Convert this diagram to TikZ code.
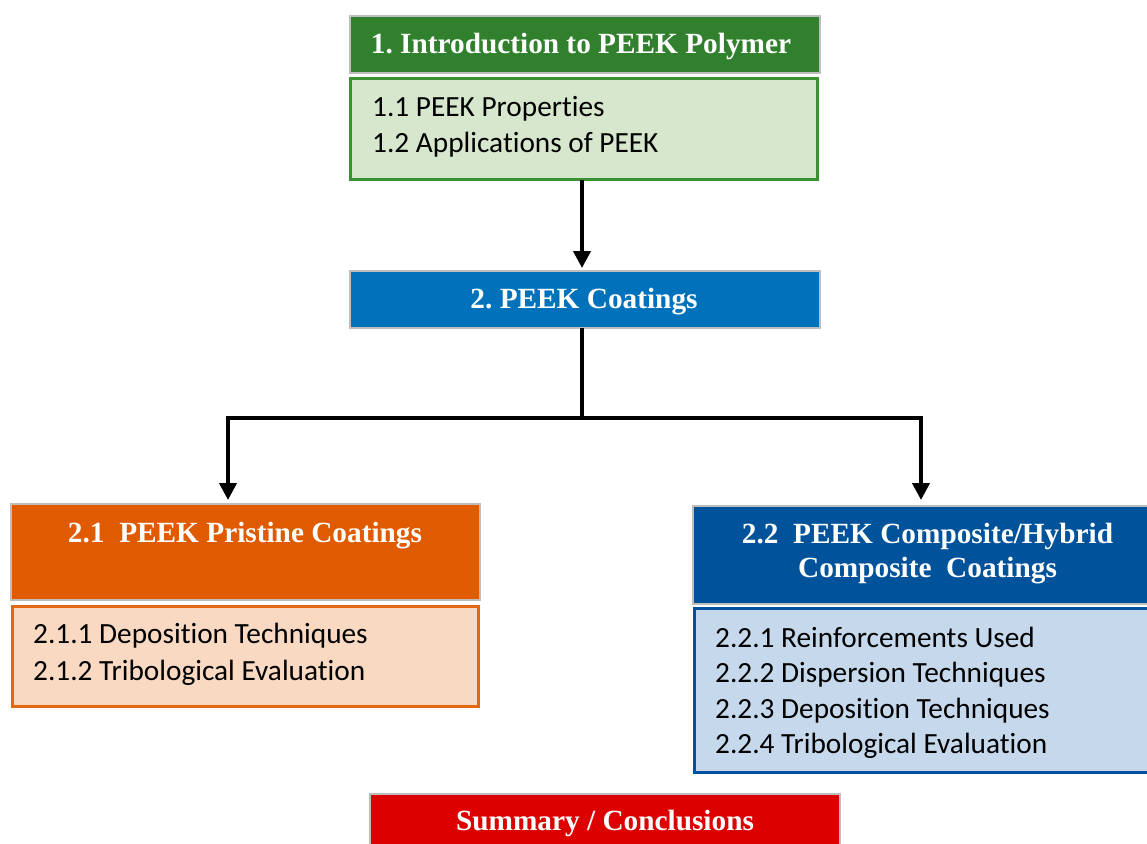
\documentclass[tikz,border=0pt]{standalone}
\usepackage{fontspec}
\setmainfont{Liberation Serif}
\newfontfamily\bodyfont[RawFeature=-liga]{Carlito}
\usetikzlibrary{arrows.meta}
\frenchspacing
\definecolor{gtitle}{RGB}{49,128,45}
\definecolor{gborder}{RGB}{60,145,50}
\definecolor{gfill}{RGB}{214,231,206}
\definecolor{btitle}{RGB}{0,114,187}
\definecolor{otitle}{RGB}{224,90,0}
\definecolor{oborder}{RGB}{226,104,20}
\definecolor{ofill}{RGB}{249,217,194}
\definecolor{dtitle}{RGB}{0,82,155}
\definecolor{dborder}{RGB}{0,80,160}
\definecolor{dfill}{RGB}{198,217,236}
\definecolor{rtitle}{RGB}{220,0,0}
\definecolor{gray1}{RGB}{190,190,190}
\tikzset{
  titlebox/.style={draw=gray1, line width=2pt, inner sep=0pt, outer sep=0pt},
  subbox/.style={line width=3pt, inner sep=0pt, outer sep=0pt},
  ttext/.style={text=white, font=\fontsize{29.3}{34}\selectfont\bfseries, inner sep=0pt, anchor=base},
  btext/.style={text=black, font=\bodyfont\fontsize{29.3}{36}\selectfont, inner sep=0pt, anchor=base west},
  arr/.style={line width=4pt, line join=miter, -{Triangle[width=17pt,length=17pt]}},
  ln/.style={line width=4pt}
}
\begin{document}
\begin{tikzpicture}[x=1pt,y=-1pt]
\useasboundingbox (0,0) rectangle (1147,843);
\clip (0,0) rectangle (1147,843);
% box 1
\node[titlebox, fill=gtitle, minimum width=470pt, minimum height=57pt] (t1) at (585,44.5) {};
\node[subbox, draw=gborder, fill=gfill, minimum width=467pt, minimum height=101pt] (s1) at (584,128.5) {};
\node[ttext] (t1x) at (581,53) {1. Introduction to PEEK Polymer};
\node[btext] (s1a) at (372,116) {1.1 PEEK Properties};
\node[btext] (s1b) at (372,152) {1.2 Applications of PEEK};
% box 2
\node[titlebox, fill=btitle, minimum width=470pt, minimum height=57pt] (t2) at (585,299) {};
\node[ttext] (t2x) at (584,308) {2. PEEK Coatings};
% box 2.1
\node[titlebox, fill=otitle, minimum width=469pt, minimum height=96pt] (t21) at (245.5,552) {};
\node[ttext] (t21x) at (245,542) {2.1\ \ PEEK Pristine Coatings};
\node[subbox, draw=oborder, fill=ofill, minimum width=466pt, minimum height=100pt] (s21) at (245.5,656) {};
\node[btext] (s21a) at (33,643) {2.1.1 Deposition Techniques};
\node[btext] (s21b) at (33,680) {2.1.2 Tribological Evaluation};
% box 2.2
\node[titlebox, fill=dtitle, minimum width=469pt, minimum height=98pt] (t22) at (927.5,555) {};
\node[ttext] (t22x) at (927.5,543) {2.2\ \ PEEK Composite/Hybrid};
\node[ttext] (t22y) at (927.5,577) {Composite\ \ Coatings};
\node[subbox, draw=dborder, fill=dfill, minimum width=466pt, minimum height=164pt] (s22) at (927.5,690) {};
\node[btext] (s22a) at (715,647) {2.2.1 Reinforcements Used};
\node[btext] (s22b) at (715,682) {2.2.2 Dispersion Techniques};
\node[btext] (s22c) at (715,718) {2.2.3 Deposition Techniques};
\node[btext] (s22d) at (715,753) {2.2.4 Tribological Evaluation};
% summary
\node[titlebox, fill=rtitle, minimum width=470pt, minimum height=60pt] (sum) at (605,824) {};
\node[ttext] (sumx) at (605,830) {Summary / Conclusions};
% connectors
\coordinate (a0) at (582,180);
\coordinate (a0e) at (582,268);
\coordinate (a1) at (582,328);
\coordinate (j) at (582,417.5);
\coordinate (jl) at (228,417.5);
\coordinate (jr) at (921,417.5);
\coordinate (el) at (228,500);
\coordinate (er) at (921,500);
\draw[arr] (a0) -- (a0e);
\draw[ln] (a1) -- (j);
\draw[arr] (j) -- (jr) -- (er);
\draw[arr] (j) -- (jl) -- (el);
\end{tikzpicture}
\end{document}
